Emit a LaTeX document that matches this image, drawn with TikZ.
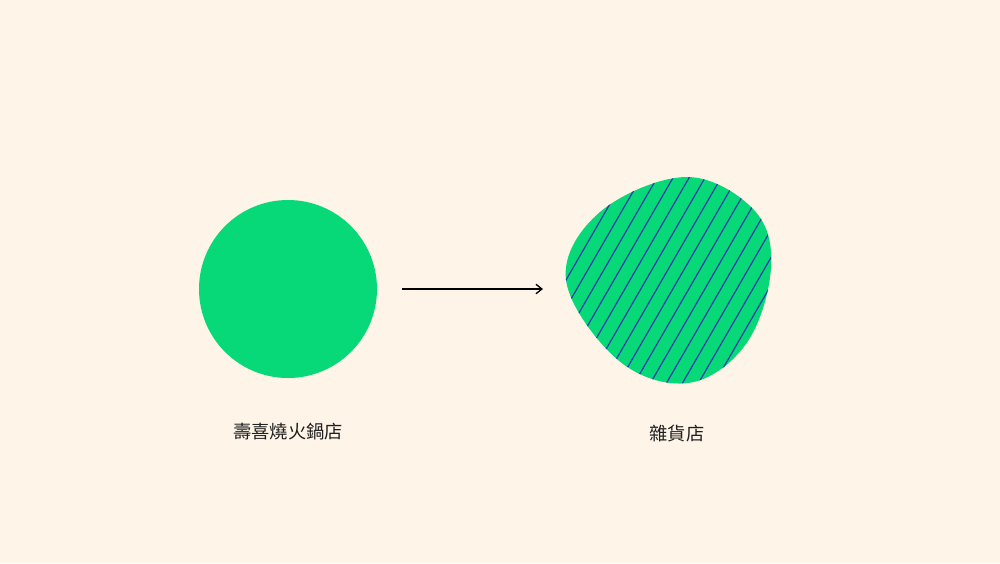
\documentclass[tikz,border=0pt]{standalone}
\usepackage{fontspec}
\setmainfont{Noto Sans CJK TC}
\usetikzlibrary{arrows.meta}
\definecolor{cream}{RGB}{254,244,232}
\definecolor{mint}{RGB}{7,217,120}
\definecolor{hatch}{RGB}{40,60,170}

\begin{document}
\begin{tikzpicture}[x=0.2mm,y=-0.2mm,
        shop/.style={circle,fill=mint,minimum size=35.6mm,inner sep=0pt},
        lbl/.style={font=\fontsize{10.4}{12}\selectfont,text=black!88},
        arr/.style={-{Straight Barb[length=1.2mm,width=1.9mm]},line width=0.75pt}]
        \fill[cream] (0,0) rectangle (1000,563);
        \useasboundingbox (0,0) rectangle (1000,563);
        \node[shop] (hotpot) at (288,289) {};
        \coordinate (grocery) at (566,289);
        \fill[mint] plot[smooth cycle,tension=0.62] coordinates {(566,280) (600,212) (686,177) (754,210)
            (771,268) (746,344) (688,383) (618,360)};
        \begin{scope}
            \clip plot[smooth cycle,tension=0.62] coordinates {(566,280) (600,212) (686,177) (754,210)
                (771,268) (746,344) (688,383) (618,360)};
            \foreach \k in {-3,...,15}
                \draw[hatch,line width=0.7pt] ({566+16*\k-69.3},400) -- ({566+16*\k+69.3},160);
        \end{scope}
        \draw[arr,shorten <=5mm,shorten >=4.6mm] (hotpot.east) -- (grocery);
        \node[lbl] (hotpotname) at (288,432) {壽喜燒火鍋店};
        \node[lbl] (groceryname) at (677,434) {雜貨店};
    \end{tikzpicture}
\end{document}
